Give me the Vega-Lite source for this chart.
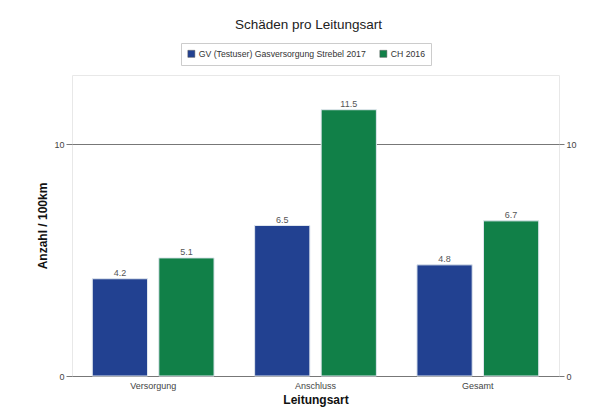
{
  "$schema": "https://vega.github.io/schema/vega-lite/v6.json",
  "autosize": {"type": "none"},
  "padding": {"left": 72, "top": 75, "right": 41, "bottom": 31},
  "width": 487,
  "height": 301,
  "background": "white",
  "title": {"text": "Schäden pro Leitungsart", "fontSize": 13.5, "font": "Liberation Sans", "fontWeight": "normal", "color": "#222", "anchor": "middle", "dx": -7, "offset": 11},
  "config": {
    "view": {"stroke": "#e8e8e8"},
    "font": "Liberation Sans"
  },
  "data": {"values": [
    {"Leitungsart": "Versorgung", "Serie": "GV (Testuser) Gasversorgung Strebel 2017", "Wert": 4.2},
    {"Leitungsart": "Versorgung", "Serie": "CH 2016", "Wert": 5.1},
    {"Leitungsart": "Anschluss", "Serie": "GV (Testuser) Gasversorgung Strebel 2017", "Wert": 6.5},
    {"Leitungsart": "Anschluss", "Serie": "CH 2016", "Wert": 11.5},
    {"Leitungsart": "Gesamt", "Serie": "GV (Testuser) Gasversorgung Strebel 2017", "Wert": 4.8},
    {"Leitungsart": "Gesamt", "Serie": "CH 2016", "Wert": 6.7}
  ]},
  "encoding": {
    "x": {"field": "Leitungsart", "type": "nominal", "sort": ["Versorgung", "Anschluss", "Gesamt"],
      "scale": {"paddingInner": 0.25, "paddingOuter": 0.125},
      "axis": {"title": "Leitungsart", "titleFontSize": 12, "titleFontWeight": "bold", "titleColor": "#111", "titlePadding": 4, "labelAngle": 0, "labelFontSize": 9, "labelColor": "#444", "ticks": false, "domain": false, "labelPadding": 5}},
    "xOffset": {"field": "Serie", "type": "nominal", "sort": ["GV (Testuser) Gasversorgung Strebel 2017", "CH 2016"], "scale": {"paddingInner": 0.17}}
  },
  "layer": [
    {
      "mark": {"type": "bar", "stroke": "#dfe6ee", "strokeWidth": 1},
      "encoding": {
        "y": {"field": "Wert", "type": "quantitative", "scale": {"domain": [0, 13], "nice": false},
          "axis": {"title": "Anzahl / 100km", "titleFontSize": 12, "titleFontWeight": "bold", "titleColor": "#111", "titlePadding": 4, "values": [0, 10], "grid": true, "gridColor": "#777", "domain": false, "tickColor": "#777", "tickSize": 6, "labelFontSize": 9, "labelColor": "#444", "labelPadding": 2}},
        "color": {"field": "Serie", "type": "nominal", "sort": ["GV (Testuser) Gasversorgung Strebel 2017", "CH 2016"],
          "scale": {"range": ["#224191", "#118048"]},
          "legend": {"title": null, "orient": "none", "direction": "horizontal", "legendX": 109, "legendY": -32, "symbolType": "square", "symbolSize": 49, "symbolStrokeColor": "#555", "symbolStrokeWidth": 0.5, "labelFontSize": 8.7, "labelColor": "#333", "labelLimit": 400, "strokeColor": "#cccccc", "padding": 6, "columnPadding": 12, "labelOffset": 3}}
      }
    },
    {
      "mark": {"type": "text", "dy": -1, "fontSize": 9, "color": "#555", "baseline": "bottom"},
      "encoding": {
        "y": {"field": "Wert", "type": "quantitative", "scale": {"domain": [0, 13], "nice": false}, "axis": null},
        "text": {"field": "Wert", "type": "quantitative", "format": ".1f"}
      }
    },
    {
      "mark": {"type": "rule", "opacity": 0},
      "encoding": {
        "y": {"datum": 0, "type": "quantitative", "scale": {"domain": [0, 13], "nice": false},
          "axis": {"orient": "right", "title": null, "values": [0, 10], "grid": false, "domain": false, "tickColor": "#777", "tickSize": 5, "labelFontSize": 9, "labelColor": "#444", "labelPadding": 2}}
      }
    }
  ],
  "resolve": {"axis": {"y": "independent"}}
}
